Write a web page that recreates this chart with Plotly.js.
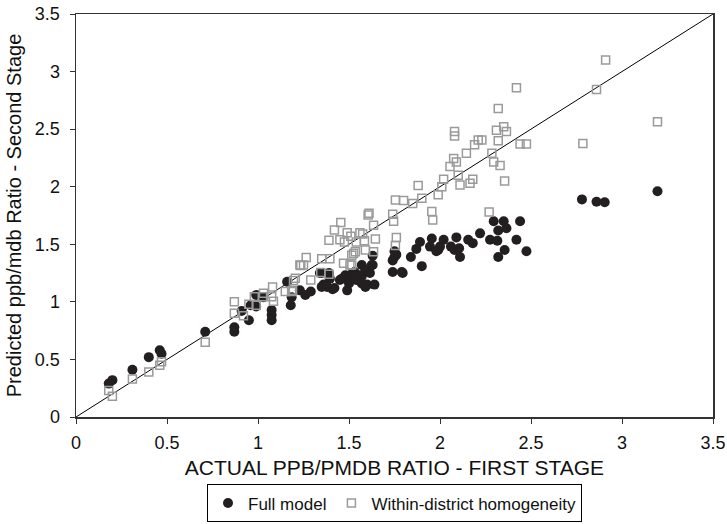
<!DOCTYPE html>
<html>
<head>
<meta charset="utf-8">
<script src="https://cdn.plot.ly/plotly-3.0.1.min.js"></script>
<style>
html,body{margin:0;padding:0;background:#fff;}
#chart{width:727px;height:524px;}
</style>
</head>
<body>
<div id="chart"></div>
<script>
// Full model (black dots): actual first-stage ratio vs predicted second-stage ratio
const fullX = [0.18,0.20,0.31,0.40,0.46,0.47,0.71,0.87,0.87,0.91,0.95,
  0.99,1.03,0.99,0.96,1.075,1.075,1.075,1.16,1.185,1.18,
  1.23,1.26,1.29,1.34,1.36,1.395,1.42,1.49,1.46,1.48,1.52,1.56,
  1.57,1.60,1.64,1.57,1.59,1.63,1.63,1.74,1.75,1.75,1.74,1.795,
  1.84,1.90,1.87,1.89,1.945,1.955,1.99,2.00,2.02,2.06,2.08,2.09,2.105,2.11,
  2.155,2.18,2.22,2.275,2.295,2.315,2.32,2.32,2.35,2.355,2.365,2.42,2.44,2.475,
  2.78,2.86,2.905,3.195,
  1.35,1.38,1.41,1.35,1.39,1.45,1.50,1.51,1.53,1.54,1.57,1.59,1.615,1.625,1.76,1.79,1.98];
const fullY = [0.29,0.32,0.41,0.52,0.58,0.55,0.74,0.78,0.74,0.92,0.84,
  1.06,1.04,0.96,0.97,0.93,0.885,0.84,1.175,1.04,0.97,
  1.10,1.06,1.09,1.25,1.15,1.20,1.12,1.10,1.20,1.23,1.25,1.23,
  1.16,1.15,1.15,1.32,1.28,1.40,1.32,1.36,1.39,1.44,1.26,1.25,
  1.39,1.31,1.46,1.52,1.48,1.55,1.45,1.48,1.54,1.48,1.45,1.56,1.465,1.39,
  1.54,1.51,1.595,1.54,1.70,1.53,1.62,1.39,1.70,1.45,1.64,1.54,1.70,1.44,
  1.89,1.87,1.865,1.96,
  1.13,1.13,1.11,1.25,1.25,1.19,1.16,1.23,1.26,1.19,1.22,1.13,1.25,1.32,1.41,1.26,1.44];

// Within-district homogeneity (open squares)
const homX = [0.18,0.20,0.31,0.40,0.46,0.47,0.71,0.87,0.87,0.92,0.95,
  0.98,0.99,1.025,1.03,1.085,1.075,1.08,1.15,1.185,1.195,1.205,1.29,1.235,1.25,1.265,
  1.345,1.39,1.35,1.395,1.47,1.505,1.525,1.59,1.635,1.39,1.475,1.54,1.645,1.42,1.455,
  1.49,1.51,1.56,1.575,1.585,1.635,1.605,1.61,1.74,1.745,1.76,1.755,1.755,1.80,1.85,
  1.88,1.90,1.955,1.96,1.99,2.01,2.02,2.055,2.075,2.09,2.10,2.11,2.145,2.165,2.18,
  2.08,2.08,2.21,2.19,2.91,2.42,2.86,2.32,3.195,2.35,2.31,2.365,2.23,2.32,2.44,2.475,
  2.785,2.285,2.295,2.33,2.355,2.27,1.515,1.535,1.515,1.45,1.23,1.19];
const homY = [0.23,0.18,0.33,0.39,0.45,0.48,0.65,1.00,0.90,0.88,0.98,
  1.045,0.97,1.045,1.075,1.005,1.045,1.13,1.09,1.09,1.185,1.205,1.19,1.315,1.32,1.385,
  1.255,1.24,1.375,1.375,1.335,1.32,1.42,1.45,1.435,1.535,1.52,1.52,1.545,1.625,1.69,
  1.60,1.57,1.60,1.59,1.53,1.665,1.755,1.77,1.76,1.70,1.56,1.49,1.885,1.88,1.855,
  2.01,1.90,1.785,1.71,1.93,2.00,2.065,2.175,2.245,2.215,2.10,2.015,2.29,2.03,2.065,
  2.48,2.44,2.405,2.365,3.10,2.86,2.845,2.68,2.565,2.52,2.49,2.48,2.405,2.40,2.37,2.37,
  2.375,2.29,2.215,2.185,2.05,1.78,1.405,1.435,1.32,1.54,1.32,1.10];

// 45-degree reference line
const diagX = [0, 3.5];
const diagY = [0, 3.5];

const tickVals = [0,0.5,1,1.5,2,2.5,3,3.5];
const tickText = ['0','0.5','1','1.5','2','2.5','3','3.5'];

const FONT = 'Arial, "Liberation Sans", Helvetica, sans-serif';

const traces = [
  {x: diagX, y: diagY, type: 'scatter', mode: 'lines',
   line: {color: '#000', width: 1}, showlegend: false, hoverinfo: 'skip'},
  {x: fullX, y: fullY, type: 'scatter', mode: 'markers', name: 'Full model',
   marker: {symbol: 'circle', size: 10, color: '#231f20', line: {width: 0}}},
  {x: homX, y: homY, type: 'scatter', mode: 'markers', name: 'Within-district homogeneity',
   marker: {symbol: 'square-open', size: 8, color: '#9a9a9a', line: {width: 1.5, color: '#9a9a9a'}}}
];

const axisBase = {
  range: [0, 3.5], tickvals: tickVals, ticktext: tickText,
  showgrid: false, zeroline: false, showline: true, mirror: true,
  linecolor: '#333', linewidth: 1.5,
  ticks: 'outside', ticklen: 5, tickwidth: 1, tickcolor: '#333',
  tickfont: {family: FONT, size: 18, color: '#111'}
};

const layout = {
  width: 727, height: 524,
  margin: {l: 76, r: 14, t: 14, b: 107, autoexpand: false},
  paper_bgcolor: '#fff', plot_bgcolor: '#fff',
  font: {family: FONT, color: '#111'},
  xaxis: Object.assign({}, axisBase, {
    title: {text: 'ACTUAL PPB/PMDB RATIO - FIRST STAGE', font: {family: FONT, size: 21, color: '#111'}, standoff: 8},
    ticklabelstandoff: 4
  }),
  yaxis: Object.assign({}, axisBase, {
    title: {text: 'Predicted ppb/mdb Ratio - Second Stage', font: {family: FONT, size: 20, color: '#111'}, standoff: 8},
    ticklabelstandoff: 6
  }),
  showlegend: true,
  legend: {
    orientation: 'h', x: 0.5, xanchor: 'center',
    yref: 'container', y: 0.003, yanchor: 'bottom',
    bordercolor: '#000', borderwidth: 1, bgcolor: '#fff',
    font: {family: FONT, size: 17, color: '#111'},
    traceorder: 'normal', itemwidth: 30
  }
};

Plotly.newPlot('chart', traces, layout, {displayModeBar: false, staticPlot: true});
</script>
</body>
</html>
